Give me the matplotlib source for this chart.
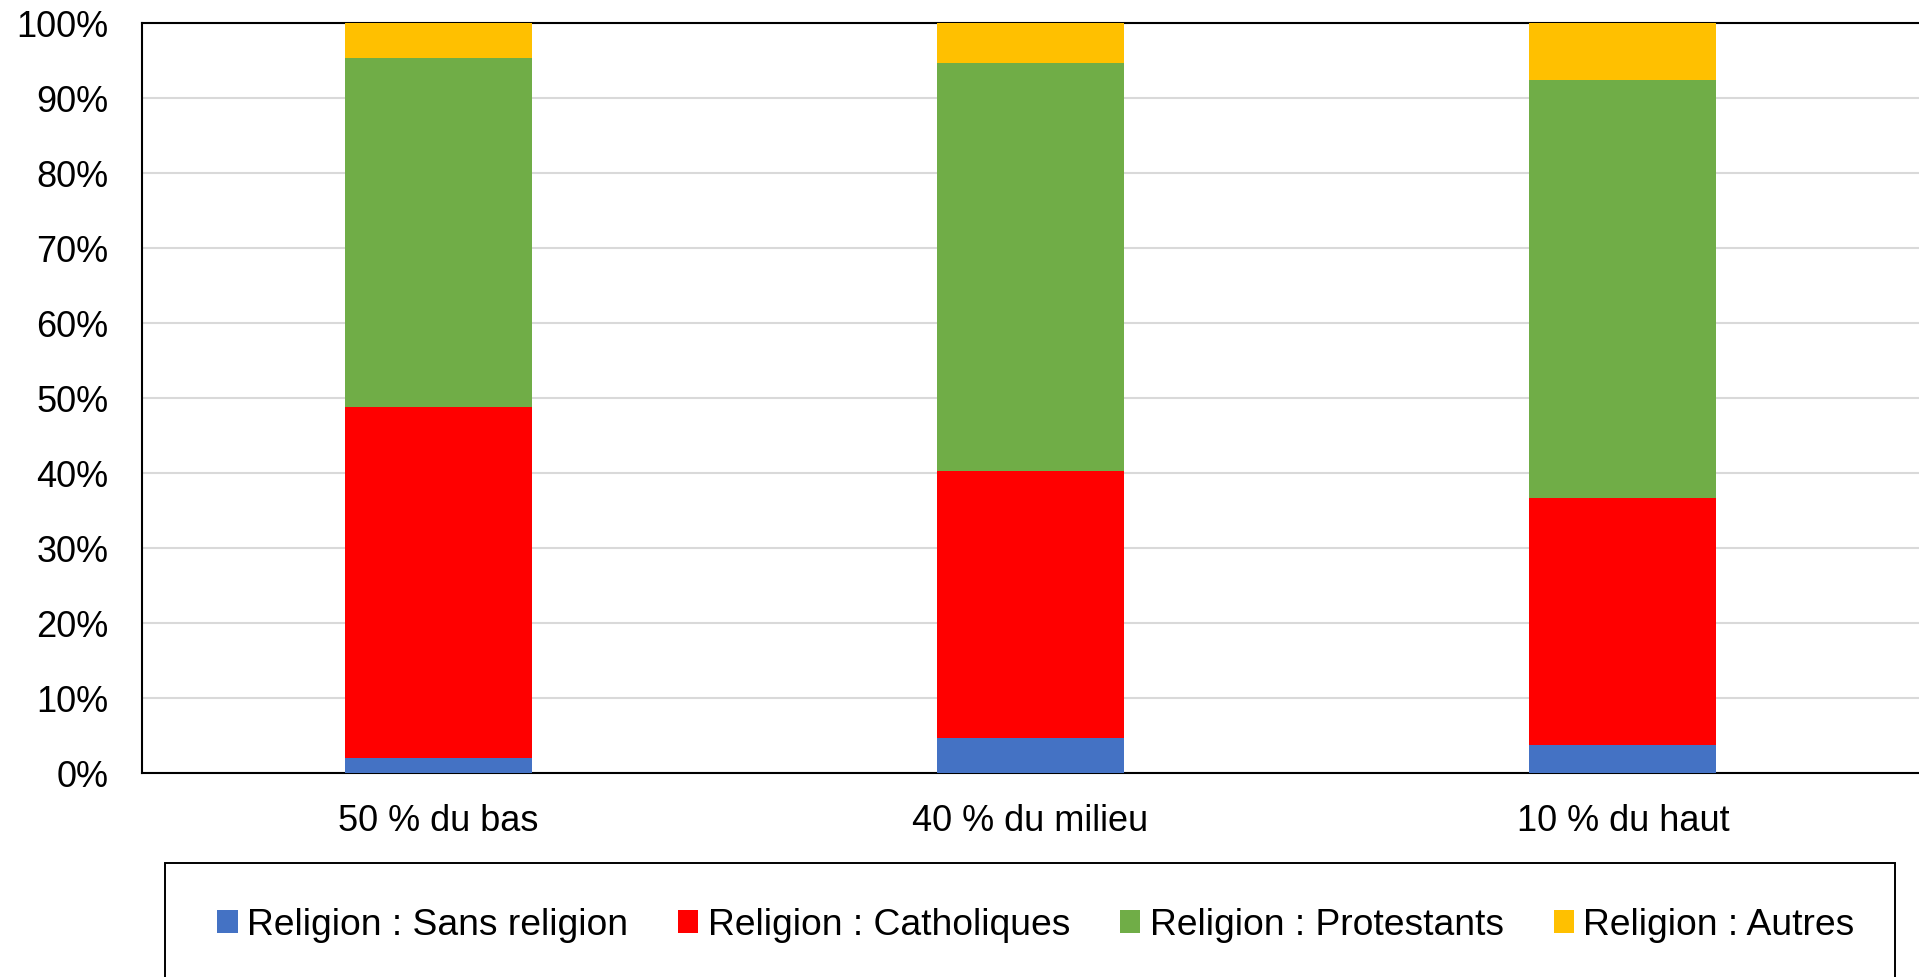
import numpy as np
import matplotlib.pyplot as plt
from matplotlib.patches import Rectangle

plt.rcParams['font.family'] = ['Liberation Sans', 'DejaVu Sans']

# --- data (shares in %) --------------------------------------------------
categories = ["50 % du bas", "40 % du milieu", "10 % du haut"]
sans_religion = [1.9, 4.6, 3.7]
catholiques = [46.8, 35.6, 32.9]
protestants = [46.6, 54.4, 55.8]
autres = [4.7, 5.4, 7.6]

series = [
    ("Religion : Sans religion", sans_religion, "#4472C4"),
    ("Religion : Catholiques", catholiques, "#FF0000"),
    ("Religion : Protestants", protestants, "#70AD47"),
    ("Religion : Autres", autres, "#FFC000"),
]

FS = 26

fig = plt.figure(figsize=(19.19, 9.78), dpi=100)
ax = fig.add_axes([142 / 1919, 1 - 773.5 / 978, 1 - 142 / 1919, (773.5 - 23.5) / 978])

x = np.arange(len(categories))
bottom = np.zeros(len(categories))
for label, vals, color in series:
    vals = np.array(vals)
    ax.bar(x, vals, width=0.316, bottom=bottom, color=color, label=label,
           zorder=3)
    bottom += vals

ax.set_xlim(-0.5, 2.5)
ax.set_ylim(0, 100)
ax.set_yticks(np.arange(0, 101, 10))
ax.set_yticklabels([f"{v}%" for v in range(0, 101, 10)])
ax.set_xticks(x)
ax.set_xticklabels(categories)
ax.tick_params(axis="both", length=0, labelsize=FS)
ax.tick_params(axis="y", pad=24)
ax.tick_params(axis="x", pad=22)

ax.yaxis.grid(True, color="#D9D9D9", lw=1.5, zorder=0)
ax.set_axisbelow(True)
for side in ("left", "bottom", "top"):
    ax.spines[side].set_color("black")
    ax.spines[side].set_linewidth(1.5)
ax.spines["right"].set_visible(False)

# legend with a square frame running past the bottom edge
handles, labels = ax.get_legend_handles_labels()
fig.legend(handles, labels, loc="center", bbox_to_anchor=(1036 / 1919, 1 - 926 / 978),
           ncol=4, frameon=False, fontsize=26.8, handlelength=0.55,
           handleheight=0.55, handletextpad=0.25, columnspacing=1.34)
fig.patches.append(Rectangle((165 / 1919, -0.05), (1895 - 165) / 1919,
                             (978 - 864) / 978 + 0.05, transform=fig.transFigure,
                             fill=False, edgecolor="black", lw=1.4))

fig.savefig("out.png", dpi=100)
